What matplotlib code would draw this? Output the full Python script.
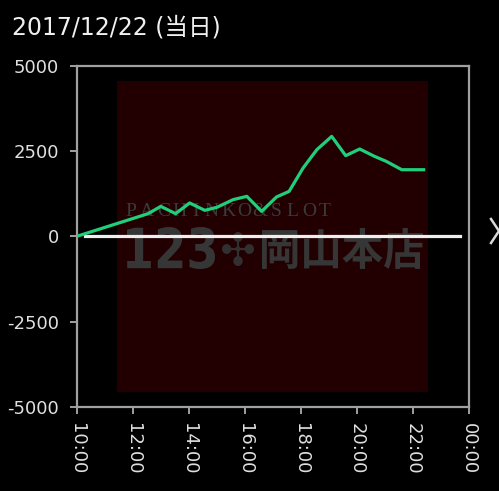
import matplotlib
matplotlib.use("Agg")
import matplotlib.pyplot as plt
from matplotlib.patches import Rectangle, PathPatch
from matplotlib.lines import Line2D
from matplotlib.textpath import TextPath
from matplotlib.font_manager import FontProperties
from matplotlib.transforms import Affine2D

plt.rcParams['font.family'] = ['DejaVu Sans', 'Noto Sans CJK JP']

title = "2017/12/22 (当日)"
hours = [10.0, 12.55, 13.0, 13.53, 14.03, 14.57, 15.0, 15.58, 16.07, 16.6, 17.13,
         17.58, 18.08, 18.57, 19.1, 19.6, 20.1, 20.63, 21.05, 21.6, 22.38]
values = [0, 666, 880, 666, 980, 763, 851, 1077, 1174, 734, 1156,
          1320, 2007, 2544, 2934, 2368, 2564, 2347, 2200, 1956, 1956]
xticks = [10, 12, 14, 16, 18, 20, 22, 24]
xtick_labels = ["10:00", "12:00", "14:00", "16:00", "18:00", "20:00", "22:00", "00:00"]
yticks = [-5000, -2500, 0, 2500, 5000]
ytick_labels = ["-5000", "-2500", "0", "2500", "5000"]
wm_small = "PACHINKO&SLOT"
wm_num = "123"
wm_name = "岡山本店"

W, H = 499, 491
fig = plt.figure(figsize=(W / 100, H / 100), dpi=100, facecolor='black')
ax = fig.add_axes([76.7 / W, 1 - 406.7 / H, (469 - 76.7) / W, (406.7 - 66) / H])
ax.set_facecolor('black')
ax.set_xlim(10, 24)
ax.set_ylim(-5000, 5000)

# pixel (top-left origin) -> figure transform
pix = Affine2D().scale(1, -1).translate(0, H).scale(1 / W, 1 / H) + fig.transFigure


def box_text(s, x0, y0, x1, y1, family, weight, color, z):
    fp = FontProperties(family=family, weight=weight)
    tp = TextPath((0, 0), s, size=100, prop=fp)
    bb = tp.get_extents()
    tr = (Affine2D().translate(-bb.x0, -bb.y0)
          .scale((x1 - x0) / bb.width, (y1 - y0) / bb.height)
          .scale(1, -1).translate(x0, y1))
    path = tr.transform_path(tp)
    p = PathPatch(path, facecolor=color, edgecolor='none', transform=pix,
                  zorder=z, clip_on=False)
    ax.add_patch(p)


# watermark
ax.add_patch(Rectangle((117, 81), 428 - 117, 392 - 81, facecolor='#220002',
                       edgecolor='none', transform=pix, zorder=0, clip_on=False))
n = len(wm_small)
for i, ch in enumerate(wm_small):
    cx = 131 + i * (325 - 131) / (n - 1)
    ax.text(cx, 209.5, ch, transform=pix, family='Liberation Serif', fontsize=14,
            color='#3a3a3a', ha='center', va='center_baseline', zorder=1)
box_text(wm_num, 127, 227, 215, 269, 'DejaVu Sans', 'bold', '#363636', 1)
box_text("✣", 222, 232, 254, 266, 'DejaVu Sans', 'bold', '#303030', 1)
box_text(wm_name, 262, 228, 423, 269, 'Noto Sans CJK JP', 'bold', '#363636', 1)

ax.axhline(0, xmin=(85 - 76.7) / (469 - 76.7), xmax=(460 - 76.7) / (469 - 76.7),
           color='#eeeeee', lw=2.3, zorder=2)
ax.plot(hours, values, color='#1fcf7a', lw=2.3, zorder=3)

for s in ax.spines.values():
    s.set_color('#a0a0a0')
    s.set_linewidth(1.6)
ax.set_xticks(xticks)
ax.set_xticklabels(xtick_labels, rotation=270)
ax.set_yticks(yticks)
ax.set_yticklabels(ytick_labels)
ax.tick_params(colors='#a0a0a0', length=5, width=1.4, labelcolor='#e0e0e0', labelsize=13)
ax.tick_params(axis='x', pad=7)
ax.tick_params(axis='y', pad=8)

fig.text(12 / W, 1 - 27 / H, title, color='#f0f0f0', fontsize=17, ha='left', va='center')

# chevron at right edge
fig.lines.append(Line2D([491 / W, 499 / W, 491 / W], [1 - 219 / H, 1 - 231 / H, 1 - 243 / H],
                        transform=fig.transFigure, color='#d8d8d8', lw=1.8))

fig.savefig('out.png', dpi=100, facecolor='black')
